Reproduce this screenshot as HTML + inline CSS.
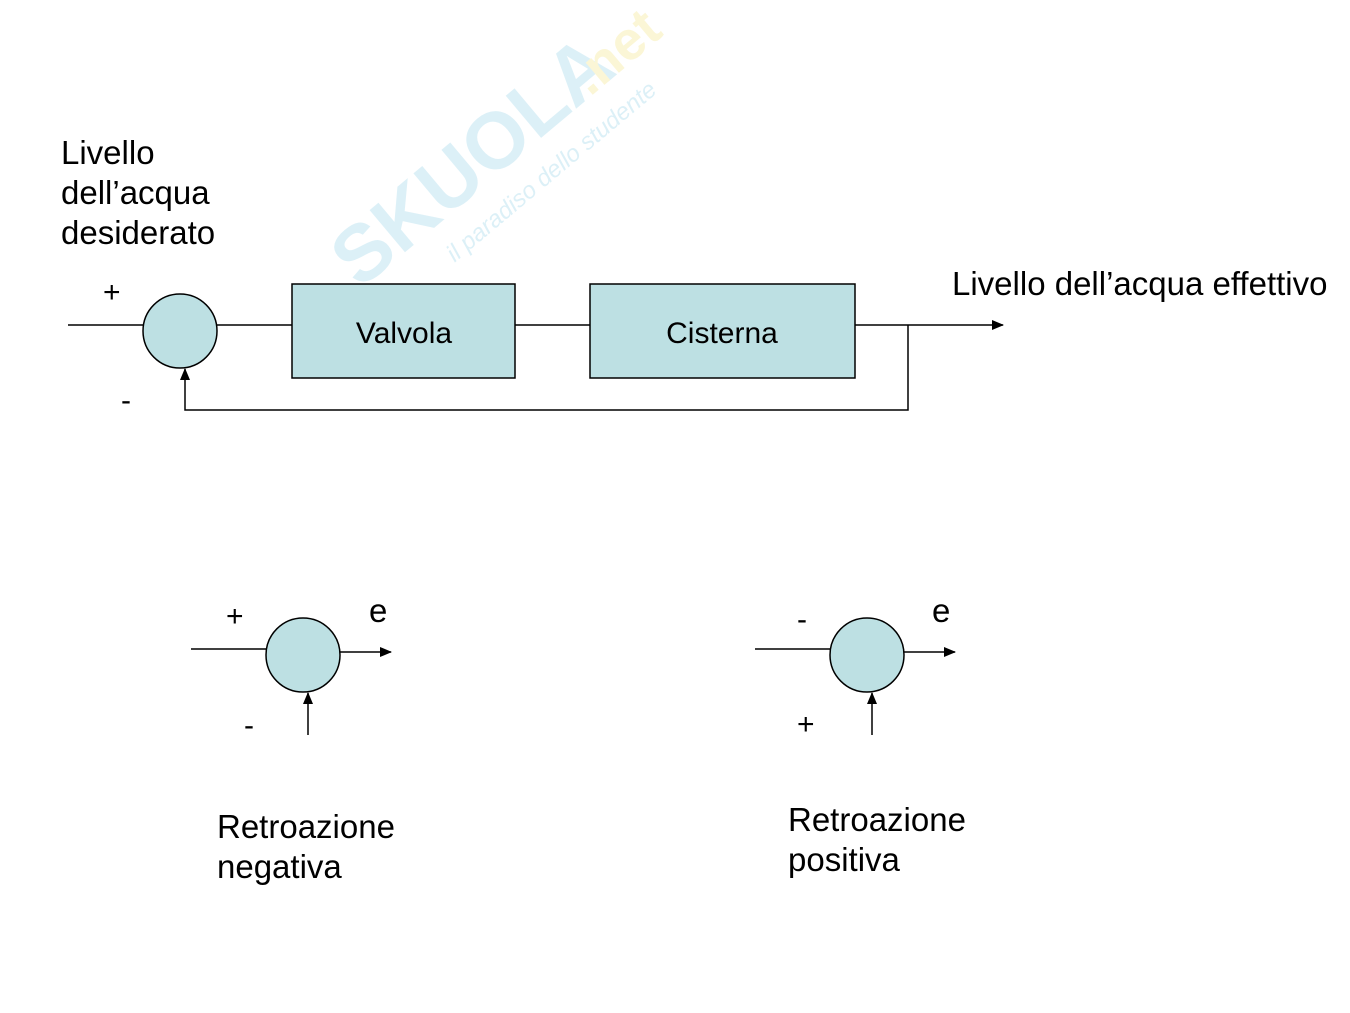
<!DOCTYPE html>
<html><head><meta charset="utf-8"><style>
html,body{margin:0;padding:0;background:#fff;}
svg{display:block;font-family:"Liberation Sans",sans-serif;}
</style></head><body>
<svg width="1350" height="1013" viewBox="0 0 1350 1013" xmlns="http://www.w3.org/2000/svg">
<defs>
<marker id="a" markerWidth="12" markerHeight="10" refX="11" refY="5" orient="auto" markerUnits="userSpaceOnUse">
<path d="M0,0 L12,5 L0,10 z" fill="#000"/></marker>
</defs>
<!-- watermark -->
<g transform="translate(360,290) rotate(-40)" opacity="0.3">
<text x="0" y="0" font-size="80" font-weight="bold" fill="#8fd0e6">SKUOLA</text>
<text x="300" y="0" font-size="55" font-weight="bold" fill="#f3e27a">.net</text>
<text x="90" y="40" font-size="24" font-style="italic" fill="#8fd0e6">il paradiso dello studente</text>
</g>
<g stroke="#000" stroke-width="1.5" fill="none">
<line x1="68" y1="325" x2="143" y2="325"/>
<line x1="217" y1="325" x2="292" y2="325"/>
<line x1="515" y1="325" x2="590" y2="325"/>
<line x1="855" y1="325" x2="1003" y2="325" marker-end="url(#a)"/>
<polyline points="908,325 908,410 185,410 185,369" marker-end="url(#a)"/>
<line x1="191" y1="649" x2="266" y2="649"/>
<line x1="338" y1="652" x2="391" y2="652" marker-end="url(#a)"/>
<line x1="308" y1="735" x2="308" y2="693" marker-end="url(#a)"/>
<line x1="755" y1="649" x2="830" y2="649"/>
<line x1="901" y1="652" x2="955" y2="652" marker-end="url(#a)"/>
<line x1="872" y1="735" x2="872" y2="693" marker-end="url(#a)"/>
</g>
<g fill="#bde0e3" stroke="#000" stroke-width="1.5">
<circle cx="180" cy="331" r="37"/>
<rect x="292" y="284" width="223" height="94"/>
<rect x="590" y="284" width="265" height="94"/>
<circle cx="303" cy="655" r="37"/>
<circle cx="867" cy="655" r="37"/>
</g>
<g font-size="33" fill="#000">
<text x="61" y="164">Livello</text>
<text x="61" y="204">dell’acqua</text>
<text x="61" y="244">desiderato</text>
<text x="952" y="295">Livello dell’acqua effettivo</text>
<text x="217" y="838">Retroazione</text>
<text x="217" y="878">negativa</text>
<text x="788" y="831">Retroazione</text>
<text x="788" y="871">positiva</text>
<text x="369" y="622">e</text>
<text x="932" y="622">e</text>
</g>
<g font-size="30" fill="#000">
<text x="404" y="343" text-anchor="middle">Valvola</text>
<text x="722" y="343" text-anchor="middle">Cisterna</text>
<text x="103" y="302">+</text>
<text x="121" y="410">-</text>
<text x="226" y="626">+</text>
<text x="244" y="735">-</text>
<text x="797" y="629">-</text>
<text x="797" y="734">+</text>
</g>
</svg>
</body></html>
